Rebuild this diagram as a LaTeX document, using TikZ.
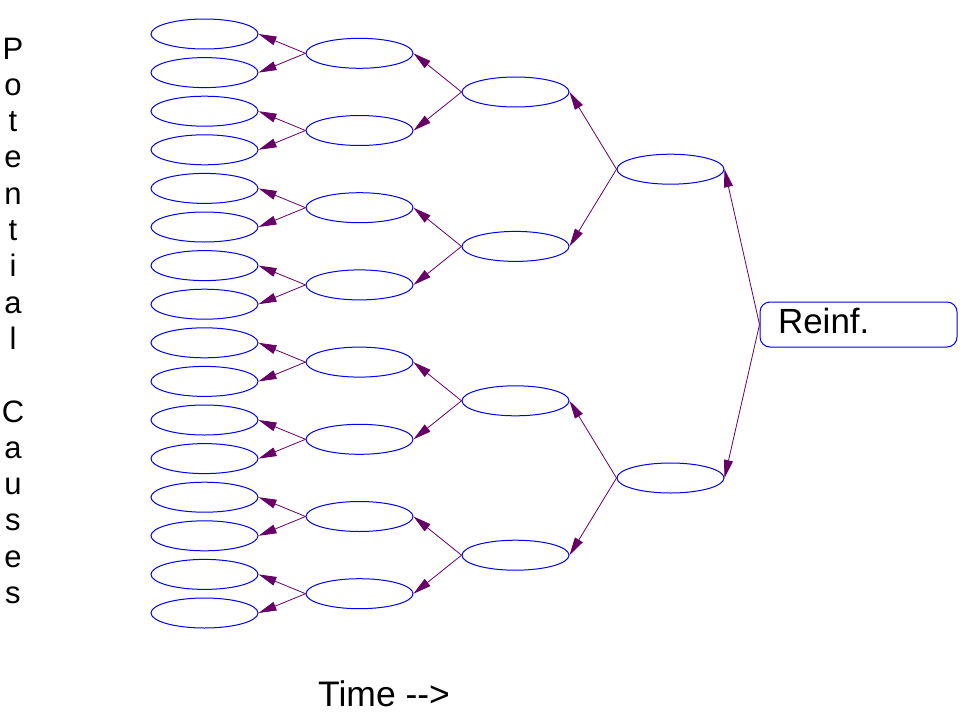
\documentclass[tikz,border=0pt]{standalone}
\usepackage{fontspec}
\setmainfont{Liberation Sans}
\usetikzlibrary{shapes.geometric,arrows.meta}
\definecolor{eblue}{RGB}{0,0,230}
\definecolor{apurple}{RGB}{102,0,102}
\begin{document}
\begin{tikzpicture}[x=1pt,y=-1pt,
  cell/.style={ellipse,draw=eblue,line width=1pt,minimum width=107pt,minimum height=30pt,inner sep=0pt},
  link/.style={draw=apurple,line width=0.8pt,-{Triangle[length=18pt,width=9pt]}},
  label text/.style={inner sep=0pt,font=\fontsize{35.5}{40}\selectfont}]
\useasboundingbox (0,0) rectangle (960,720);
\foreach \i in {0,...,15} \node[cell] (a\i) at (204.5,{34+38.6*\i}) {};
\foreach \j in {0,...,7} \node[cell] (b\j) at (359.5,{53.3+77.2*\j}) {};
\foreach \k in {0,...,3} \node[cell] (c\k) at (515.5,{92+154.4*\k}) {};
\foreach \m in {0,1} \node[cell] (d\m) at (670.5,{169.2+308.8*\m}) {};
\node[draw=eblue,line width=1pt,rounded corners=10pt,minimum width=197pt,minimum height=45pt,
      text width=161pt,inner xsep=18pt,inner ysep=0pt,align=left,text height=17pt,text depth=0pt,
      font=\fontsize{35}{40}\selectfont] (r) at (858.5,324.5) {Reinf.};
\foreach \j in {0,...,7} {
  \pgfmathtruncatemacro\p{2*\j}
  \pgfmathtruncatemacro\q{2*\j+1}
  \draw[link] (b\j.west) -- (a\p.east);
  \draw[link] (b\j.west) -- (a\q.east);
}
\foreach \k in {0,...,3} {
  \pgfmathtruncatemacro\p{2*\k}
  \pgfmathtruncatemacro\q{2*\k+1}
  \draw[link] (c\k.west) -- (b\p.east);
  \draw[link] (c\k.west) -- (b\q.east);
}
\foreach \m in {0,1} {
  \pgfmathtruncatemacro\p{2*\m}
  \pgfmathtruncatemacro\q{2*\m+1}
  \draw[link] (d\m.west) -- (c\p.east);
  \draw[link] (d\m.west) -- (c\q.east);
}
\draw[link] (r.west) -- (d0.east);
\draw[link] (r.west) -- (d1.east);
\foreach \ch [count=\n from 0] in {P,o,t,e,n,t,i,a,l,{},C,a,u,s,e,s}
  \node[anchor=base,inner sep=0pt,font=\fontsize{31}{36}\selectfont] (v\n) at (13,{59+36.3*\n}) {\ch};
\node[label text,anchor=base west] (time) at (318,706) {Time -{}->};
\end{tikzpicture}
\end{document}
